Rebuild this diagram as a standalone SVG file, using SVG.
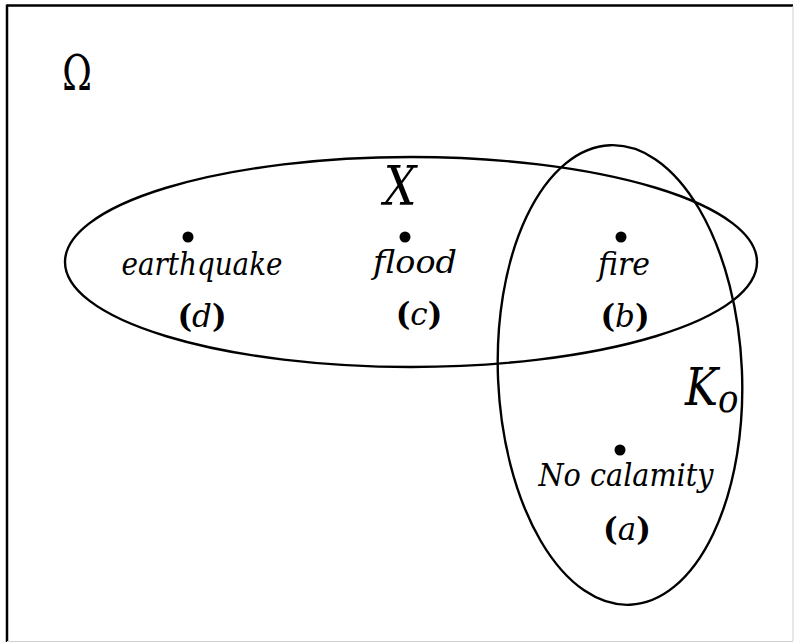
<svg xmlns="http://www.w3.org/2000/svg" width="794" height="642" viewBox="0 0 794 642">
<style>
.frame{stroke:#000;stroke-width:2.5;fill:none}
.faint{stroke:#d0d0d0;stroke-width:1;fill:none}
.set{fill:none;stroke:#000;stroke-width:2.4}
.dot{fill:#000}
.w{font-family:"DejaVu Serif",serif;font-style:italic;font-size:32px;fill:#000;text-anchor:middle}
.p{font-family:"DejaVu Serif",serif;font-size:31px;font-weight:bold;fill:#000;text-anchor:middle}
.p tspan{font-weight:normal;font-style:italic}
.big{font-family:"DejaVu Serif",serif;font-style:italic;fill:#000}
.om{font-family:"DejaVu Serif",serif;fill:#000;text-anchor:middle}
</style>
<rect width="794" height="642" fill="#fff"/>
<g id="frame">
<line class="frame" x1="7" y1="5.5" x2="793" y2="5.5"/>
<line class="frame" x1="7" y1="4.5" x2="7" y2="642"/>
<line class="faint" x1="793" y1="6" x2="793" y2="641"/>
<line class="faint" x1="7" y1="641.5" x2="793" y2="641.5"/>
</g>
<g id="omega">
<text class="om" transform="translate(77,90) scale(0.85,1.15)" font-size="42">Ω</text>
</g>
<g id="connectors">
<ellipse id="set-X" class="set" cx="411" cy="262" rx="346" ry="105"/>
<ellipse id="set-K" class="set" cx="620" cy="375" rx="122" ry="230" transform="rotate(-2.5 620 375)"/>
</g>
<g id="label-X"><text class="big" transform="translate(400,205) scale(0.85,1)" text-anchor="middle" font-size="54">X</text></g>
<g id="label-K"><text class="big" transform="translate(685,405) scale(0.85,1)" font-size="52">K<tspan font-size="40" dy="7">o</tspan></text></g>
<g id="node-d">
<circle class="dot" cx="188" cy="237" r="5.5"/>
<text class="w" x="202" y="275" textLength="161" lengthAdjust="spacingAndGlyphs">earthquake</text>
<text class="p" x="202" y="327">(<tspan>d</tspan>)</text>
</g>
<g id="node-c">
<circle class="dot" cx="405" cy="237" r="5.5"/>
<text class="w" x="415" y="273" textLength="84" lengthAdjust="spacingAndGlyphs">flood</text>
<text class="p" x="419" y="325">(<tspan>c</tspan>)</text>
</g>
<g id="node-b">
<circle class="dot" cx="621" cy="237" r="5.5"/>
<text class="w" x="624" y="275" textLength="52" lengthAdjust="spacingAndGlyphs">fire</text>
<text class="p" x="625" y="327">(<tspan>b</tspan>)</text>
</g>
<g id="node-a">
<circle class="dot" cx="620" cy="450" r="5.5"/>
<text class="w" x="626" y="486" textLength="175" lengthAdjust="spacingAndGlyphs">No calamity</text>
<text class="p" x="627" y="540">(<tspan>a</tspan>)</text>
</g>
</svg>
